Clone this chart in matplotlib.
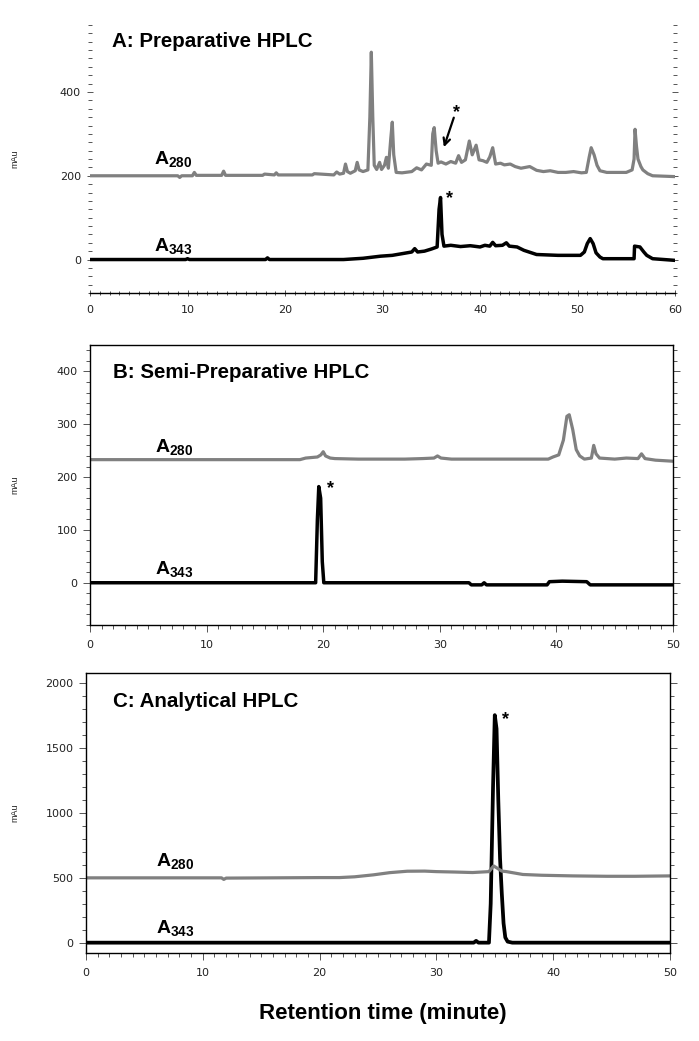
import matplotlib
matplotlib.use("Agg")
import matplotlib.pyplot as plt
import matplotlib.ticker as mticker

plt.rcParams["font.family"] = ["Liberation Sans", "DejaVu Sans"]
plt.rcParams["mathtext.fontset"] = "custom"
plt.rcParams["mathtext.bf"] = "Liberation Sans:bold"
plt.rcParams["mathtext.rm"] = "Liberation Sans"

GRAY = "#808080"

# ── Panel A: preparative HPLC ────────────────────────────────────────────────
a_t280 = [0, 9.0, 9.2, 9.4, 10.5, 10.7, 10.9, 13.5, 13.7, 13.9, 17.7, 17.9, 18.9, 19.1, 19.3,
          22.8, 23.0, 25.0, 25.3, 25.6, 26.0, 26.2, 26.4, 26.7, 27.2, 27.4, 27.6, 28.0, 28.5,
          28.7, 28.85, 29.0, 29.15, 29.4, 29.7, 29.9, 30.2, 30.4, 30.6, 30.85, 31.0, 31.15,
          31.4, 32.0, 33.0, 33.5, 34.0, 34.5, 35.0, 35.15, 35.3, 35.5, 35.7, 36.0, 36.5, 37.0,
          37.5, 37.8, 38.1, 38.5, 38.9, 39.2, 39.6, 39.9, 40.3, 40.7, 41.0, 41.3, 41.6, 42.1,
          42.5, 43.1, 43.6, 44.2, 45.1, 45.8, 46.5, 47.2, 48.0, 48.8, 49.6, 50.4, 50.9, 51.2,
          51.4, 51.7, 52.0, 52.3, 53.0, 54.0, 55.0, 55.6, 55.8, 55.9, 56.05, 56.2, 56.5, 56.7,
          57.2, 57.7, 60]
a_v280 = [200, 200, 196, 200, 200, 208, 201, 201, 211, 201, 201, 204, 202, 207, 202,
          202, 205, 202, 209, 204, 206, 228, 210, 206, 212, 232, 214, 210, 214,
          340, 495, 340, 225, 215, 232, 215, 225, 244, 218, 290, 328, 250,
          208, 207, 210, 219, 214, 228, 225, 300, 315, 260, 230, 233, 228, 234,
          230, 248, 232, 238, 283, 250, 273, 238, 236, 232, 245, 267, 228, 230,
          226, 228, 222, 218, 222, 213, 210, 212, 208, 208, 210, 207, 208, 245,
          267, 250, 225, 212, 208, 208, 208, 214, 240, 311, 270, 240, 222, 214,
          205, 200, 198]
a_t343 = [0, 9.8, 10.0, 10.2, 18.0, 18.2, 18.4, 26.0, 28.0, 29.8, 31.0, 32.0, 33.0, 33.3, 33.6,
          34.3, 35.0, 35.6, 35.8, 35.95, 36.1, 36.3, 37.0, 38.0, 39.0, 40.0, 40.5, 41.0, 41.3,
          41.6, 42.3, 42.7, 43.0, 43.8, 44.5, 45.8, 48.0, 50.3, 50.7, 51.0, 51.3, 51.6, 51.9,
          52.3, 52.6, 55.8, 55.85, 56.4, 56.8, 57.1, 57.7, 60]
a_v343 = [0, 0, 2, 0, 0, 4, 0, 0, 3, 8, 10, 14, 18, 26, 18,
          20, 25, 30, 120, 148, 60, 32, 34, 31, 33, 30, 34, 32, 41,
          33, 34, 40, 32, 30, 22, 12, 10, 10, 18, 38, 50, 38, 16,
          6, 2, 2, 32, 30, 18, 10, 2, -2]

# ── Panel B: semi-preparative HPLC ───────────────────────────────────────────
b_t280 = [0, 18.0, 18.5, 19.5, 19.8, 20.0, 20.2, 20.6, 21.0, 23.0, 27.0, 28.5, 29.5, 29.8,
          30.1, 31.0, 39.3, 39.7, 40.2, 40.6, 40.9, 41.1, 41.4, 41.7, 42.0, 42.4, 43.0, 43.2,
          43.4, 43.7, 45.0, 46.0, 47.0, 47.3, 47.6, 48.5, 50]
b_v280 = [233, 233, 236, 238, 242, 248, 240, 236, 235, 234, 234, 235, 236, 240,
          236, 234, 234, 238, 242, 270, 315, 318, 290, 252, 240, 234, 236, 260,
          244, 236, 234, 236, 235, 244, 235, 232, 230]
b_t343 = [0, 19.35, 19.5, 19.62, 19.78, 19.92, 20.05, 20.3, 32.5, 32.7, 33.6, 33.8, 34.0,
          39.2, 39.4, 40.5, 42.6, 42.9, 50]
b_v343 = [0, 0, 120, 182, 160, 40, 0, 0, 0, -4, -4, 0, -4,
          -4, 2, 3, 2, -4, -4]

# ── Panel C: analytical HPLC ─────────────────────────────────────────────────
c_t280 = [0, 5, 11.6, 11.8, 12.0, 20, 21.7, 23, 24.6, 26, 27.5, 29, 30, 31.5, 33.1, 34.5,
          34.9, 35.2, 35.6, 36.0, 37.4, 39, 41.7, 44.6, 47, 50]
c_v280 = [500, 500, 500, 488, 498, 502, 502, 508, 523, 540, 551, 552, 548, 545, 541, 548,
          592, 575, 552, 548, 526, 520, 515, 512, 512, 515]
c_t343 = [0, 33.2, 33.4, 33.6, 34.5, 34.65, 34.85, 35.0, 35.15, 35.3, 35.45, 35.6, 35.75,
          35.9, 36.1, 36.5, 50]
c_v343 = [0, 0, 14, 0, 0, 300, 1200, 1755, 1650, 1100, 650, 380, 150,
          40, 8, 0, 0]

fig = plt.figure(figsize=(6.99, 10.41), dpi=100)
axA = fig.add_axes([0.1288, 0.7185, 0.8369, 0.2575])
axB = fig.add_axes([0.1288, 0.3996, 0.8340, 0.2690])
axC = fig.add_axes([0.1230, 0.0845, 0.8355, 0.2690])


def style(ax, xmax, ylim, ymaj, ymin, boxed):
    ax.set_xlim(0, xmax)
    ax.set_ylim(*ylim)
    ax.xaxis.set_major_locator(mticker.MultipleLocator(10))
    ax.xaxis.set_minor_locator(mticker.MultipleLocator(1))
    ax.yaxis.set_major_locator(mticker.MultipleLocator(ymaj))
    ax.yaxis.set_minor_locator(mticker.MultipleLocator(ymin))
    direction = "out" if boxed else "inout"
    ax.tick_params(which="both", direction=direction, right=True, color="#555555",
                   width=0.7, labelsize=8, labelcolor="#222222")
    ax.tick_params(which="major", length=5)
    ax.tick_params(which="minor", length=3)
    ax.tick_params(axis="x", pad=6)
    ax.tick_params(axis="y", pad=4)
    for lbl in ax.get_xticklabels() + ax.get_yticklabels():
        lbl.set_fontfamily("DejaVu Sans")
    if boxed:
        for s in ax.spines.values():
            s.set_linewidth(1.0)
    else:
        ax.spines[["top", "left", "right"]].set_visible(False)
        ax.spines["bottom"].set_linewidth(1.0)


def trace_label(ax, x, y, num):
    ax.text(x, y, r"$\mathbf{A}_{\mathbf{%s}}$" % num, fontsize=14, ha="left", va="bottom")


# Panel A
axA.plot(a_t343, a_v343, color="black", lw=2.5)
axA.plot(a_t280, a_v280, color=GRAY, lw=2.3)
style(axA, 60, (-80, 560), 200, 20, boxed=False)
axA.text(0.038, 0.937, "A: Preparative HPLC", transform=axA.transAxes,
         fontsize=14.8, fontweight="bold", ha="left", va="center")
trace_label(axA, 6.6, 214, "280")
trace_label(axA, 6.6, 6, "343")
axA.annotate("", xy=(36.2, 262), xytext=(37.4, 345),
             arrowprops=dict(arrowstyle="->", lw=1.6, color="black",
                             mutation_scale=12))
axA.text(37.6, 352, "*", fontsize=13, fontweight="bold", ha="center", va="center")
axA.text(36.9, 145, "*", fontsize=13, fontweight="bold", ha="center", va="center")

# Panel B
axB.plot(b_t343, b_v343, color="black", lw=2.5)
axB.plot(b_t280, b_v280, color=GRAY, lw=2.3)
style(axB, 50, (-80, 450), 100, 20, boxed=True)
axB.text(0.039, 0.90, "B: Semi-Preparative HPLC", transform=axB.transAxes,
         fontsize=14.8, fontweight="bold", ha="left", va="center")
trace_label(axB, 5.6, 236, "280")
trace_label(axB, 5.6, 6, "343")
axB.text(20.6, 178, "*", fontsize=13, fontweight="bold", ha="center", va="center")

# Panel C
axC.plot(c_t343, c_v343, color="black", lw=2.7)
axC.plot(c_t280, c_v280, color=GRAY, lw=2.3)
style(axC, 50, (-80, 2080), 500, 100, boxed=True)
axC.text(0.046, 0.897, "C: Analytical HPLC", transform=axC.transAxes,
         fontsize=14.8, fontweight="bold", ha="left", va="center")
trace_label(axC, 6.0, 545, "280")
trace_label(axC, 6.0, 25, "343")
axC.text(35.9, 1720, "*", fontsize=13, fontweight="bold", ha="center", va="center")

for ax in (axA, axB, axC):
    pos = ax.get_position()
    fig.text(0.021, (pos.y0 + pos.y1) / 2, "mAu", rotation=90, fontsize=6.5,
             ha="center", va="center", color="#222222")

fig.text(0.547, 0.026, "Retention time (minute)", fontsize=16, fontweight="bold",
         ha="center", va="center")

fig.savefig("out.png", dpi=100)
